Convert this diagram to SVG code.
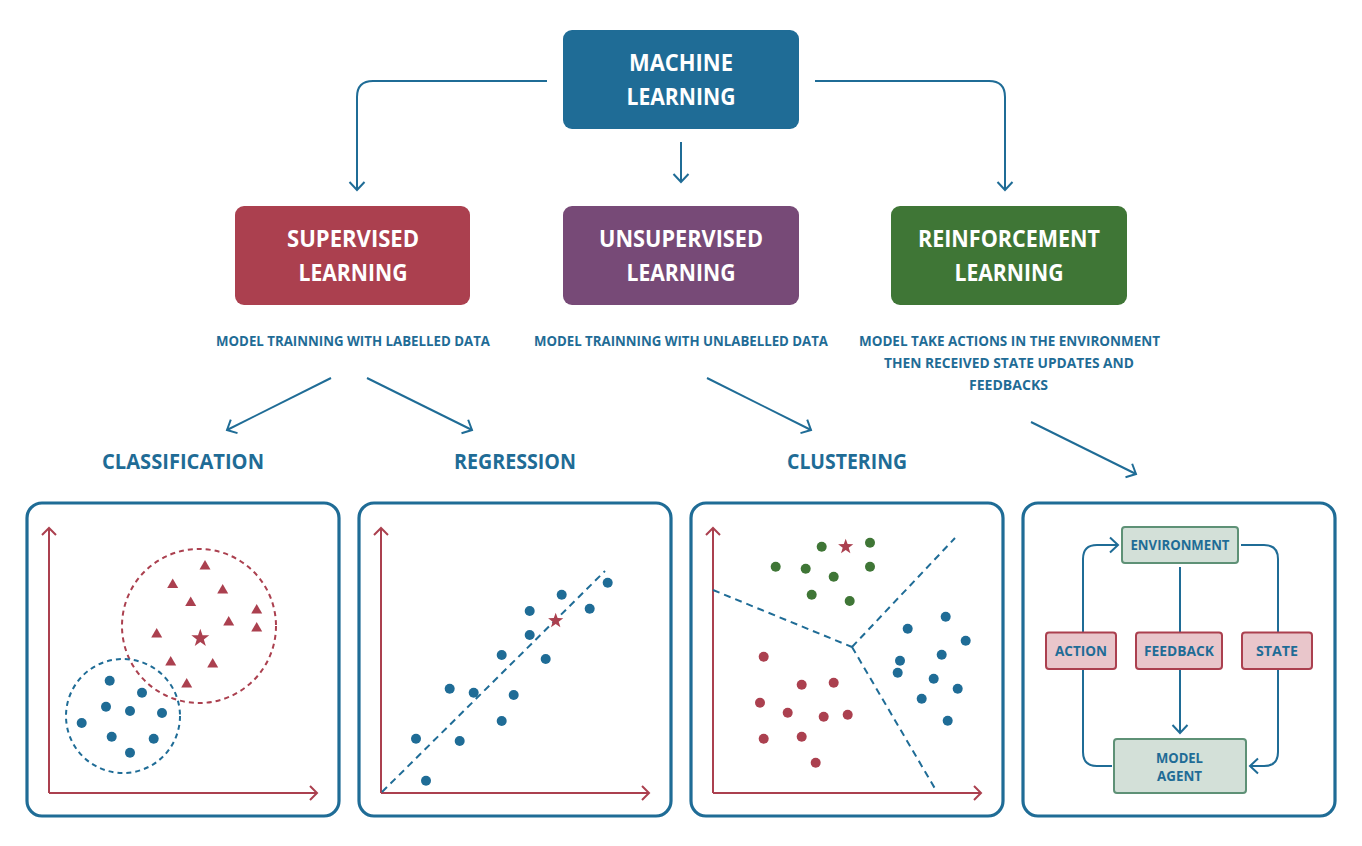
<svg xmlns="http://www.w3.org/2000/svg" width="1362" height="846" viewBox="0 0 1362 846">
<defs>
<style>
.t{font-family:"Open Sans","Noto Sans",sans-serif;font-weight:700;text-anchor:middle}
.w{fill:#ffffff;font-size:23px}
.b{fill:#1f6c96}
.sub{font-size:14px}
.lab{font-size:20.5px}
.sm{font-size:14px}
.con{fill:none;stroke:#1f6c96;stroke-width:2}
.ax{fill:none;stroke:#ab404f;stroke-width:2}
.panel{fill:#ffffff;stroke:#1f6c96;stroke-width:3.2}
.bd{fill:#1f6c96}
.rd{fill:#ab404f}
.gd{fill:#3f7636}
.gbox{fill:#d3e0d8;stroke:#5e9176;stroke-width:2}
.rbox{fill:#e9c6cb;stroke:#ab404f;stroke-width:2}
</style>
<marker id="ah" markerUnits="userSpaceOnUse" markerWidth="20" markerHeight="20" refX="10" refY="10" orient="auto" viewBox="0 0 20 20">
<path d="M2,2.5 L10,10 L2,17.5" fill="none" stroke="#1f6c96" stroke-width="2"/>
</marker>
<marker id="ar" markerUnits="userSpaceOnUse" markerWidth="20" markerHeight="20" refX="10" refY="10" orient="auto" viewBox="0 0 20 20">
<path d="M3,3 L10,10 L3,17" fill="none" stroke="#ab404f" stroke-width="2"/>
</marker>
<path id="tri" d="M0,-5.5 L5.5,4 L-5.5,4 Z"/>
<path id="star" d="M0,-8 L1.9,-2.6 L7.6,-2.5 L3,1 L4.7,6.5 L0,3.2 L-4.7,6.5 L-3,1 L-7.6,-2.5 L-1.9,-2.6 Z"/>
</defs>
<rect width="1362" height="846" fill="#ffffff"/>

<g id="connectors">
<path class="con" d="M547,81 H373 Q357,81 357,97 V190" marker-end="url(#ah)"/>
<path class="con" d="M815,81 H989 Q1005,81 1005,97 V190" marker-end="url(#ah)"/>
<path class="con" d="M681,142 V182" marker-end="url(#ah)"/>
<path class="con" d="M331,378 L227,430" marker-end="url(#ah)"/>
<path class="con" d="M367,378 L472,430" marker-end="url(#ah)"/>
<path class="con" d="M707,378 L811,430" marker-end="url(#ah)"/>
<path class="con" d="M1031,422 L1136,474" marker-end="url(#ah)"/>
</g>

<g id="machine-learning">
<rect x="563" y="30" width="236" height="99" rx="9" fill="#1f6c96"/>
<text class="t w" x="681" y="71" textLength="104" lengthAdjust="spacingAndGlyphs">MACHINE</text>
<text class="t w" x="681" y="104.5" textLength="109" lengthAdjust="spacingAndGlyphs">LEARNING</text>
</g>

<g id="supervised">
<rect x="235" y="206" width="235" height="99" rx="9" fill="#ab404f"/>
<text class="t w" x="353" y="247" textLength="132" lengthAdjust="spacingAndGlyphs">SUPERVISED</text>
<text class="t w" x="353" y="280.5" textLength="109" lengthAdjust="spacingAndGlyphs">LEARNING</text>
</g>

<g id="unsupervised">
<rect x="563" y="206" width="236" height="99" rx="9" fill="#774a77"/>
<text class="t w" x="681" y="247" textLength="164" lengthAdjust="spacingAndGlyphs">UNSUPERVISED</text>
<text class="t w" x="681" y="280.5" textLength="109" lengthAdjust="spacingAndGlyphs">LEARNING</text>
</g>

<g id="reinforcement">
<rect x="891" y="206" width="236" height="99" rx="9" fill="#3f7636"/>
<text class="t w" x="1009" y="247" textLength="182" lengthAdjust="spacingAndGlyphs">REINFORCEMENT</text>
<text class="t w" x="1009" y="280.5" textLength="109" lengthAdjust="spacingAndGlyphs">LEARNING</text>
</g>

<g id="descriptions">
<text class="t b sub" x="353" y="346" textLength="274" lengthAdjust="spacingAndGlyphs">MODEL TRAINNING WITH LABELLED DATA</text>
<text class="t b sub" x="681" y="346" textLength="294" lengthAdjust="spacingAndGlyphs">MODEL TRAINNING WITH UNLABELLED DATA</text>
<text class="t b sub" x="1009.5" y="346" textLength="301" lengthAdjust="spacingAndGlyphs">MODEL TAKE ACTIONS IN THE ENVIRONMENT</text>
<text class="t b sub" x="1009" y="368" textLength="250" lengthAdjust="spacingAndGlyphs">THEN RECEIVED STATE UPDATES AND</text>
<text class="t b sub" x="1008.5" y="390" textLength="79" lengthAdjust="spacingAndGlyphs">FEEDBACKS</text>
</g>

<g id="labels">
<text class="t b lab" x="183" y="468.5" textLength="162" lengthAdjust="spacingAndGlyphs">CLASSIFICATION</text>
<text class="t b lab" x="515" y="468.5" textLength="122" lengthAdjust="spacingAndGlyphs">REGRESSION</text>
<text class="t b lab" x="847" y="468.5" textLength="120" lengthAdjust="spacingAndGlyphs">CLUSTERING</text>
</g>

<g id="classification-panel">
<rect class="panel" x="27" y="503" width="312" height="313" rx="15"/>
<path class="ax" d="M49,793 V528" marker-end="url(#ar)"/>
<path class="ax" d="M49,793 H317" marker-end="url(#ar)"/>
<circle cx="199" cy="626" r="77" fill="none" stroke="#ab404f" stroke-width="2" stroke-dasharray="5 4"/>
<circle cx="123" cy="716" r="57" fill="none" stroke="#1f6c96" stroke-width="2" stroke-dasharray="5 4"/>
<g class="rd">
<use href="#tri" x="205" y="565.5"/>
<use href="#tri" x="172.7" y="584"/>
<use href="#tri" x="222.7" y="589.5"/>
<use href="#tri" x="190.7" y="602"/>
<use href="#tri" x="256.7" y="609.5"/>
<use href="#tri" x="228.7" y="621.5"/>
<use href="#tri" x="256.7" y="627.5"/>
<use href="#tri" x="156.7" y="633.5"/>
<use href="#tri" x="170.7" y="661.5"/>
<use href="#tri" x="212.7" y="663.5"/>
<use href="#tri" x="186.7" y="683.5"/>
<use href="#star" transform="translate(200.3,638.3) scale(1.18)"/>
</g>
<g class="bd">
<circle cx="109.7" cy="680.7" r="5"/>
<circle cx="142" cy="692.7" r="5"/>
<circle cx="106" cy="706.7" r="5"/>
<circle cx="130" cy="711" r="5"/>
<circle cx="162" cy="713" r="5"/>
<circle cx="81.7" cy="723" r="5"/>
<circle cx="111.7" cy="736.7" r="5"/>
<circle cx="153.7" cy="738.7" r="5"/>
<circle cx="130" cy="752.7" r="5"/>
</g>
</g>

<g id="regression-panel">
<rect class="panel" x="359" y="503" width="312" height="313" rx="15"/>
<path class="ax" d="M381,793 V528" marker-end="url(#ar)"/>
<path class="ax" d="M381,793 H649" marker-end="url(#ar)"/>
<path d="M382,792 L605,571" fill="none" stroke="#1f6c96" stroke-width="2" stroke-dasharray="7 5"/>
<g class="bd">
<circle cx="607.7" cy="582.7" r="5"/>
<circle cx="561.7" cy="594.7" r="5"/>
<circle cx="589.7" cy="608.7" r="5"/>
<circle cx="529.7" cy="611" r="5"/>
<circle cx="529.7" cy="635" r="5"/>
<circle cx="501.7" cy="655" r="5"/>
<circle cx="545.7" cy="659" r="5"/>
<circle cx="449.7" cy="688.7" r="5"/>
<circle cx="473.7" cy="692.7" r="5"/>
<circle cx="513.7" cy="695" r="5"/>
<circle cx="501.7" cy="721" r="5"/>
<circle cx="416" cy="738.7" r="5"/>
<circle cx="459.7" cy="741" r="5"/>
<circle cx="426" cy="780.7" r="5"/>
</g>
<use class="rd" href="#star" x="555.7" y="620.7"/>
</g>

<g id="clustering-panel">
<rect class="panel" x="691" y="503" width="312" height="313" rx="15"/>
<path class="ax" d="M713,793 V528" marker-end="url(#ar)"/>
<path class="ax" d="M713,793 H981" marker-end="url(#ar)"/>
<path d="M713,590 L852,647 M852,647 L955,538 M852,647 L937,792" fill="none" stroke="#1f6c96" stroke-width="2" stroke-dasharray="7 5"/>
<g class="gd">
<circle cx="821.7" cy="546.7" r="5"/>
<circle cx="870" cy="542.7" r="5"/>
<circle cx="775.7" cy="566.7" r="5"/>
<circle cx="805.7" cy="568.7" r="5"/>
<circle cx="833.7" cy="576.7" r="5"/>
<circle cx="870" cy="566.7" r="5"/>
<circle cx="811.7" cy="594.7" r="5"/>
<circle cx="849.7" cy="601" r="5"/>
</g>
<use class="rd" href="#star" x="845.7" y="546.7"/>
<g class="bd">
<circle cx="945.7" cy="616.7" r="5"/>
<circle cx="907.7" cy="628.7" r="5"/>
<circle cx="965.7" cy="640.7" r="5"/>
<circle cx="900" cy="660.7" r="5"/>
<circle cx="941.7" cy="654.7" r="5"/>
<circle cx="897.7" cy="672.7" r="5"/>
<circle cx="933.7" cy="678.7" r="5"/>
<circle cx="957.7" cy="688.7" r="5"/>
<circle cx="921.7" cy="698.7" r="5"/>
<circle cx="947.7" cy="720.7" r="5"/>
</g>
<g class="rd">
<circle cx="763.7" cy="656.7" r="5"/>
<circle cx="801.7" cy="684.7" r="5"/>
<circle cx="833.7" cy="682.7" r="5"/>
<circle cx="760" cy="702.7" r="5"/>
<circle cx="787.7" cy="712.7" r="5"/>
<circle cx="823.7" cy="716.7" r="5"/>
<circle cx="847.7" cy="714.7" r="5"/>
<circle cx="763.7" cy="738.7" r="5"/>
<circle cx="801.7" cy="736.7" r="5"/>
<circle cx="815.7" cy="762.7" r="5"/>
</g>
</g>

<g id="reinforcement-panel">
<rect class="panel" x="1023" y="503" width="312" height="313" rx="15"/>
<g id="rl-connectors">
<path class="con" d="M1083,632 V559 Q1083,545 1097,545 H1118" marker-end="url(#ah)"/>
<path class="con" d="M1083,669 V752 Q1083,766 1097,766 H1112"/>
<path class="con" d="M1241,545 H1264 Q1278,545 1278,559 V632"/>
<path class="con" d="M1278,669 V752 Q1278,766 1264,766 H1250" marker-end="url(#ah)"/>
<path class="con" d="M1180,567 V632"/>
<path class="con" d="M1180,669 V733" marker-end="url(#ah)"/>
</g>
<g id="environment">
<rect class="gbox" x="1122" y="527" width="116" height="36" rx="3"/>
<text class="t b sm" x="1180" y="550" textLength="99" lengthAdjust="spacingAndGlyphs">ENVIRONMENT</text>
</g>
<g id="action">
<rect class="rbox" x="1046" y="632.5" width="70" height="36.5" rx="3"/>
<text class="t b sm" x="1081" y="656" textLength="52" lengthAdjust="spacingAndGlyphs">ACTION</text>
</g>
<g id="feedback">
<rect class="rbox" x="1136" y="632.5" width="86" height="36.5" rx="3"/>
<text class="t b sm" x="1179" y="656" textLength="70" lengthAdjust="spacingAndGlyphs">FEEDBACK</text>
</g>
<g id="state">
<rect class="rbox" x="1242" y="632.5" width="70" height="36.5" rx="3"/>
<text class="t b sm" x="1277" y="656" textLength="42" lengthAdjust="spacingAndGlyphs">STATE</text>
</g>
<g id="model-agent">
<rect class="gbox" x="1114" y="739" width="132" height="54" rx="3"/>
<text class="t b sm" x="1179.5" y="762.5" textLength="47" lengthAdjust="spacingAndGlyphs">MODEL</text>
<text class="t b sm" x="1179.5" y="780.5" textLength="45" lengthAdjust="spacingAndGlyphs">AGENT</text>
</g>
</g>
</svg>
